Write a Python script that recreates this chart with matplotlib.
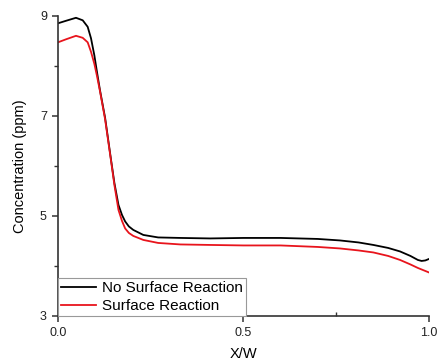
import matplotlib.pyplot as plt

plt.rcParams['font.family'] = ['Liberation Sans', 'DejaVu Sans']

# profile across the channel width
x_w = [0, 0.0216, 0.0485, 0.0666, 0.08, 0.089, 0.098, 0.105, 0.113, 0.127,
       0.143, 0.152, 0.163, 0.1725, 0.181, 0.191, 0.203, 0.23, 0.27, 0.33,
       0.41, 0.5, 0.6, 0.7, 0.76, 0.81, 0.85, 0.89, 0.922, 0.95, 0.97,
       0.98, 0.99, 1.0]
no_reaction = [8.85, 8.90, 8.96, 8.91, 8.78, 8.55, 8.21, 7.88, 7.52, 6.96,
               6.12, 5.66, 5.22, 5.02, 4.89, 4.79, 4.72, 4.62, 4.57, 4.56,
               4.55, 4.56, 4.56, 4.54, 4.51, 4.47, 4.42, 4.36, 4.29, 4.20, 4.12,
               4.10, 4.11, 4.14]
surface_reaction = [8.47, 8.53, 8.60, 8.56, 8.47, 8.28, 8.04, 7.80, 7.50, 6.93,
                    6.10, 5.62, 5.12, 4.90, 4.75, 4.66, 4.60, 4.52, 4.46, 4.43,
                    4.42, 4.41, 4.41, 4.38, 4.35, 4.31, 4.27, 4.20, 4.12, 4.03, 3.96,
                    3.93, 3.90, 3.87]

fig = plt.figure(figsize=(4.37, 3.63), dpi=100)
ax = fig.add_axes([0.1327, 0.1295, 0.849, 0.827])

ax.plot(x_w, no_reaction, c="black", lw=1.3, label="No Surface Reaction",
        solid_joinstyle="round")
ax.plot(x_w, surface_reaction, c="#e8141c", lw=1.3, label="Surface Reaction",
        solid_joinstyle="round")

ax.set_xlim(0, 1.0)
ax.set_ylim(3, 9)
ax.set_xticks([0, 0.5, 1.0])
ax.set_xticklabels(["0.0", "0.5", "1.0"])
ax.set_xticks([0.25, 0.75], minor=True)
ax.set_yticks([3, 5, 7, 9])
ax.set_yticks([4, 6, 8], minor=True)

for s in ["top", "right"]:
    ax.spines[s].set_visible(False)
for s in ["left", "bottom"]:
    ax.spines[s].set_linewidth(1.2)
    ax.spines[s].set_color("#333333")

ax.tick_params(which="major", direction="out", length=4, width=1.1,
               labelsize=9, colors="#333333", pad=4)
ax.tick_params(axis="x", which="minor", direction="in", length=3, width=1.0, colors="#333333")
ax.tick_params(axis="y", which="minor", direction="out", length=3, width=1.0, colors="#333333")
ax.tick_params(labelcolor="#222222")

ax.set_xlabel("X/W", fontsize=10.5, labelpad=6)
ax.set_ylabel("Concentration (ppm)", fontsize=10.5, labelpad=9)

leg = ax.legend(loc="lower left", bbox_to_anchor=(0, 0), borderaxespad=0,
                fontsize=11, fancybox=False, framealpha=1, edgecolor="#999999",
                handlelength=2.3, handletextpad=0.4, labelspacing=0.25,
                borderpad=0.2)
leg.get_frame().set_linewidth(0.8)

fig.savefig("out.png", dpi=100)
plt.close(fig)
